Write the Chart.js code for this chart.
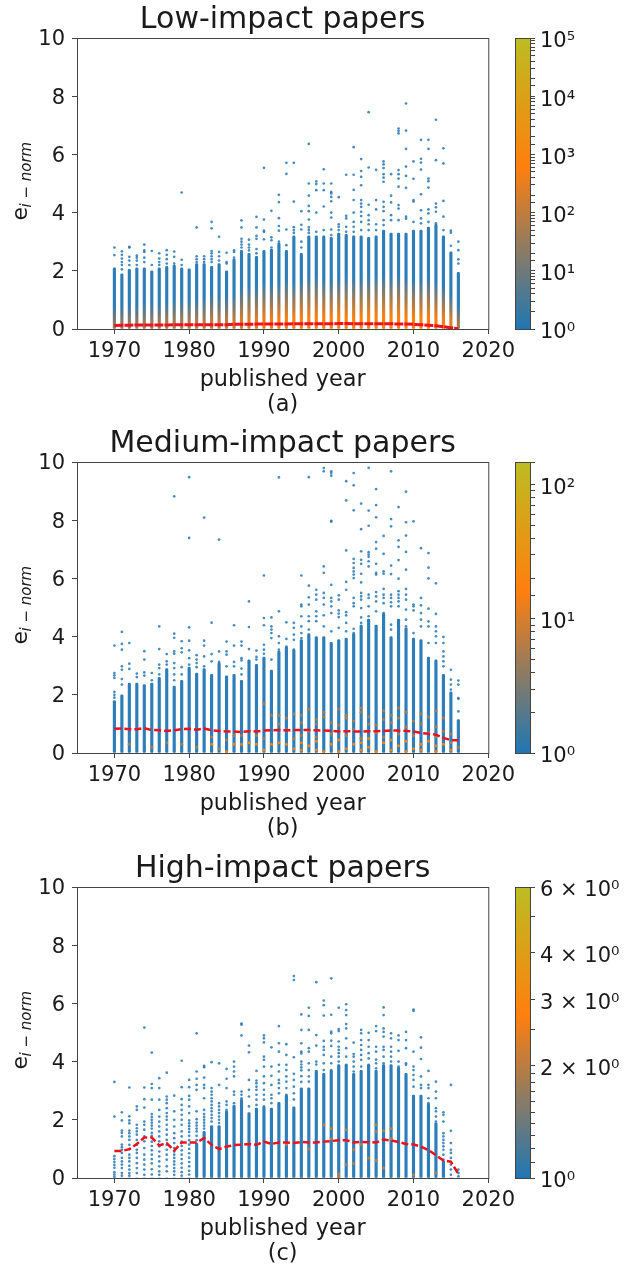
<!DOCTYPE html>
<html>
<head>
<meta charset="utf-8">
<title>Normalized e by published year</title>
<script src="https://cdn.jsdelivr.net/npm/chart.js@4"></script>
<style>
    html, body { margin: 0; padding: 0; background: #fff; }
    body { position: relative; width: 624px; height: 1265px; overflow: hidden; }
    canvas { position: absolute; }
</style>
</head>
<body>
<canvas id="panelA" width="520" height="419" style="left:0;top:0"></canvas>
<canvas id="barA" width="109" height="416" style="left:515px;top:0"></canvas>
<canvas id="panelB" width="520" height="419" style="left:0;top:424px"></canvas>
<canvas id="barB" width="109" height="416" style="left:515px;top:424px"></canvas>
<canvas id="panelC" width="520" height="419" style="left:0;top:849px"></canvas>
<canvas id="barC" width="109" height="416" style="left:515px;top:849px"></canvas>
<script>
const years = [1970,1971,1972,1973,1974,1975,1976,1977,1978,1979,
    1980,1981,1982,1983,1984,1985,1986,1987,1988,1989,
    1990,1991,1992,1993,1994,1995,1996,1997,1998,1999,
    2000,2001,2002,2003,2004,2005,2006,2007,2008,2009,
    2010,2011,2012,2013,2014,2015,2016]
const xTicks = [1970,1980,1990,2000,2010,2020]
const yTicks = [0,2,4,6,8,10]

// top of the solid part of every column
const solidA = [2.1,1.9,2.05,2.1,2.1,2.0,2.1,2.15,2.2,2.1,
    2.07,2.25,2.25,2.15,2.25,2.0,2.4,2.7,2.6,2.5,
    2.7,2.75,2.95,2.7,3.2,2.6,3.2,3.2,3.2,3.15,
    3.3,3.25,3.2,3.2,3.15,3.2,3.4,3.3,3.3,3.3,
    3.4,3.4,3.5,3.6,3.2,2.65,1.95]
const solidB = [1.8,2.0,2.4,2.4,2.35,2.4,2.6,2.9,2.3,2.5,
    2.95,2.75,2.9,2.7,3.1,2.65,2.7,2.5,3.2,3.05,
    3.3,2.85,3.5,3.65,3.55,3.9,4.1,4.0,4.0,3.8,
    3.9,3.95,4.1,4.4,4.6,4.4,4.8,4.0,4.6,4.3,
    3.95,3.9,3.3,3.2,2.7,2.1,1.15]
const solidC = [0,0,0,0,0,0,0,0,0,0,
    0,1.2,1.6,1.8,1.8,2.3,2.5,2.7,2.25,2.4,
    2.45,2.4,2.6,2.85,2.45,3.1,3.1,3.7,3.6,3.7,
    3.9,3.9,3.6,3.7,3.9,3.7,3.9,3.9,3.8,3.6,
    2.85,2.85,2.55,1.9,0.6,0,0]

// mean line
const meanA = [0.12,0.13,0.13,0.14,0.14,0.14,0.14,0.14,0.15,0.15,
    0.15,0.15,0.15,0.15,0.15,0.15,0.16,0.16,0.16,0.17,
    0.17,0.17,0.17,0.17,0.18,0.18,0.18,0.18,0.18,0.18,
    0.19,0.19,0.18,0.18,0.18,0.18,0.18,0.18,0.17,0.17,
    0.16,0.15,0.13,0.11,0.08,0.04,0.01]
const meanB = [0.83,0.84,0.82,0.82,0.85,0.79,0.78,0.76,0.78,0.82,
    0.83,0.80,0.84,0.78,0.76,0.74,0.74,0.72,0.75,0.74,
    0.77,0.78,0.79,0.78,0.79,0.79,0.79,0.78,0.77,0.76,
    0.74,0.75,0.74,0.74,0.75,0.75,0.76,0.77,0.77,0.76,
    0.74,0.69,0.66,0.63,0.52,0.44,0.44]
const meanC = [0.93,0.93,0.99,1.17,1.39,1.39,1.12,1.20,0.94,1.22,
    1.22,1.22,1.37,1.14,0.99,1.08,1.13,1.14,1.17,1.14,
    1.25,1.17,1.22,1.22,1.20,1.24,1.22,1.22,1.25,1.27,
    1.30,1.30,1.22,1.24,1.23,1.22,1.32,1.29,1.24,1.17,
    1.15,1.08,0.96,0.78,0.60,0.56,0.14]

// separate dots above or between the columns, year by year
const dotsA = [
    [2.8,2.54],[2.67,2.55,2.42,2.3,2.2,2.05],[2.82,2.8,2.48,2.35,2.2],[2.52,2.45,2.35,2.2],[2.9,2.7,2.65,2.45,2.3],
    [2.68,2.2],[2.6,2.42,2.3,2.2],[2.71,2.55,2.4,2.25],[2.66,2.48,2.25],[4.69,2.38,2.2],
    [],[3.49,2.5,2.4,2.3],[2.5,2.4,2.3],[3.68,3.46,2.68,2.6,2.5,2.4,2.3],[3.17,2.65,2.5,2.35],
    [2.62,2.3,2.25],[2.7,2.65,2.45],[3.73,3.49,3.1,3.0,2.9,2.8],[3.07,2.9,2.8,2.7],[3.85,3.49,3.2,3.1,2.75,2.6],
    [5.54,3.76,3.38,3.34,3.08],[4.06,3.15,3.05,2.8],[4.61,4.36,3.81,3.54,3.38,3.0],[5.71,5.33,3.42,2.88],[5.71,4.38,3.5,3.4,3.3],
    [4.05,3.58,3.42,3.0,2.8],[6.36,5.0,4.58,4.23,4.05,3.76,3.49,3.4,3.3],[5.07,4.98,4.77,4.0,3.34],[5.49,5.0,4.77,4.21,3.4],[5.0,4.71,4.66,4.54,4.39,4.0,3.83,3.42,3.23],
    [4.53,3.6,3.51,3.4],[5.3,3.89,3.8,3.51,3.34],[6.25,5.3,4.78,4.43,4.0,3.68,3.51,3.34],[5.84,5.43,5.23,4.94,4.43,4.31,4.2,4.03,3.88,3.68,3.4],[7.45,5.55,4.27,3.91,3.74,3.6,3.4],
    [5.47,4.43,4.11,3.6,3.4],[5.76,5.66,5.53,5.32,5.2,5.06,4.37,4.2,4.05,3.74,3.57],[5.32,4.58,4.35,3.91,3.74],[6.89,6.81,6.72,5.46,5.32,5.17,4.89,4.26,4.14,3.74],[7.75,6.82,6.19,5.58,5.26,4.85,3.86,3.79],
    [5.76,5.16,4.43,4.38,3.68],[6.5,5.85,5.72,5.48,4.63,4.08,3.8,3.63],[6.5,6.19,5.17,5.08,4.86,4.11,3.97,3.68],[7.19,5.8,4.31,4.18,4.03,3.63],[6.21,5.69,4.4,3.86,3.4],
    [3.38,3.31,2.86],[3.0,2.71,2.39,2.25]
]
const dotsB = [
    [3.69,2.75,2.67,2.58,2.1,2.0,1.9],[4.16,3.75,3.55,2.98,2.86,2.54,2.35],[3.78,3.07,2.89],[2.73,2.61],[3.5,3.21,2.77,2.66],
    [2.75,2.5],[4.35,3.57,3.04,2.92,2.7],[3.4,3.15,3.04],[8.82,4.1,3.96,3.49,3.41,3.09,2.92,2.7,2.5],[3.84,3.6,3.46,2.95,2.7],
    [9.48,7.39,4.32,3.86,3.53,3.26,3.04],[3.36,3.21,3.09,2.95],[8.09,3.86,3.69,3.32,2.98],[4.48,3.4,3.15],[7.33,3.49,3.13],
    [3.83,3.49,3.38,2.98],[4.39,3.69,3.13,2.98],[3.83,3.69,3.26,3.18,2.9,2.7],[5.21,4.33,3.57],[3.52,3.3,3.21],
    [6.1,4.64,4.39,3.72,3.55,3.41],[4.66,4.35,4.24,4.12,3.95,3.21],[9.47,4.87,4.01,3.78,3.55],[4.49,3.92,3.66],[4.47,4.3,4.07,3.89,3.55],
    [6.1,5.1,5.04,4.7,4.35,4.12,3.95],[9.48,5.75,5.35,5.1,4.7,4.53,4.24],[5.61,5.44,5.27,4.87,4.7,4.53],[9.79,9.68,6.41,6.19,5.5,5.33,5.1,4.73,4.35],[9.68,9.62,9.53,7.98,7.95,5.78,5.33,5.21,5.04,4.81,4.18],
    [5.42,5.27,4.9,4.79,4.67,4.3],[9.34,8.68,6.96,5.88,5.61,4.84,4.73,4.47,4.18],[9.62,9.2,8.34,6.67,6.53,6.36,6.24,6.13,6.01,5.33,5.15,5.04,4.27,4.12],[8.57,7.69,6.93,6.64,6.5,6.16,5.86,5.5,5.38,5.27,4.98,4.66,4.47],[9.8,8.33,7.81,6.9,6.82,6.74,6.59,6.41,5.44,5.33,5.04,4.7],
    [9.07,8.52,8.1,7.25,7.02,6.5,6.19,6.13,5.53,5.38,5.21,4.87],[7.46,6.84,6.24,6.16,5.64,5.44,5.33,5.15,4.81],[9.68,8.04,7.79,6.44,6.15,5.44,5.33,5.18,5.04,4.41,4.24],[8.45,7.31,7.08,6.63,5.99,5.56,5.44,5.33,5.21,5.04],[8.98,7.93,7.47,6.91,6.3,5.64,5.44,5.27,4.93,4.58,4.35],
    [7.96,5.1,5.04,4.9,4.12],[7.04,5.33,5.07,4.81,4.58,4.35],[6.87,6.37,6.0,4.96,4.52,4.35,3.78],[5.83,4.78,4.35,4.18,4.01,3.78],[3.99,3.78,3.49,3.32,3.15,2.98],
    [2.86,2.52,2.35,2.18],[2.49,2.35,1.89,1.86,1.43]
]
const dotsC = [
    [3.3,2.11,0.75,0.65,0.55,0.45,0.35,0.2,0.12,0.05],
    [2.26,1.98,1.63,1.55,1.43,1.15,1.06,0.97,0.86,0.69,0.57,0.46,0.34,0.17,0.08],
    [3.11,2.12,1.98,1.88,1.63,1.54,1.43,1.31,1.14,0.99,0.8,0.69,0.57,0.42,0.29,0.17,0.08],
    [2.46,2.34,1.83,1.71,1.6,1.49,1.31,1.14,0.97,0.86,0.69,0.51,0.34,0.17],
    [5.17,3.11,2.71,2.42,1.94,1.83,1.66,1.43,1.26,1.03,0.8,0.63,0.46,0.29,0.11],
    [4.31,3.23,3.09,2.69,2.2,2.1,2.0,1.9,1.8,1.7,1.55,1.45,1.25,1.1,0.95,0.8,0.65,0.5,0.3,0.12],
    [3.43,3.09,2.69,2.34,2.11,1.94,1.77,1.6,1.43,1.26,1.09,0.91,0.74,0.57,0.4,0.23,0.11],
    [3.62,2.8,2.69,2.57,2.4,2.23,2.11,2.0,1.83,1.66,1.49,1.31,1.14,0.97,0.8,0.63,0.4,0.23],
    [2.83,2.29,2.0,1.77,1.54,1.37,1.2,1.03,0.91,0.8,0.69,0.57,0.46,0.34,0.23,0.11],
    [4.03,3.12,2.71,2.51,2.34,2.17,2.0,1.83,1.6,1.43,1.25,1.1,0.95,0.8,0.65,0.5,0.35,0.2,0.08],
    [3.37,3.12,2.82,2.69,2.46,2.23,1.98,1.88,1.78,1.68,1.58,1.45,1.3,1.15,1.0,0.85,0.7,0.55,0.4,0.25,0.12],
    [4.97,3.66,3.41,3.2,3.03,2.29,2.02,1.9,1.8,1.7,1.6,1.45,1.3],
    [3.85,3.81,3.45,3.2,3.09,2.74,2.34,2.2,2.1,2.0,1.9,1.8,1.7],
    [3.98,3.09,2.97,2.86,2.74,2.63,2.51,2.4,2.29,2.17,2.06,1.94],
    [3.94,3.2,2.57,2.46,2.34,2.23,2.11,2.0,1.89],
    [3.75,3.41,3.09,2.63,2.51,2.34],[4.0,3.83,3.66,3.49,2.97,2.86,2.57],[5.31,5.27,4.9,2.97,2.86,2.74],[4.55,4.32,3.37,3.03,2.8,2.46],[3.68,3.35,3.26,3.14,3.03,2.86,2.69,2.51],
    [4.9,4.8,4.66,4.17,4.06,3.83,3.49,3.26,3.03,2.86,2.69,2.46],[4.49,3.83,3.51,3.2,2.86,2.74,2.57],[5.22,4.63,4.34,3.89,3.66,3.37,3.26,3.09,2.91],[4.6,4.23,3.89,3.71,3.49,3.31,3.09,2.86],[6.94,6.8,4.15,3.58,3.37,3.14,2.91,2.7],
    [5.62,5.09,4.63,4.34,4.28,4.0,3.9,3.8,3.7,3.5,3.3],[5.85,5.57,5.09,4.46,4.34,3.94,3.71,3.49,3.31],[6.73,4.91,4.55,4.0,3.9],[6.1,5.94,5.58,4.71,4.51,4.4,4.23,3.94,3.71],[6.86,5.61,5.03,4.97,4.72,4.54,4.17,3.94,3.71],
    [5.85,5.12,5.05,4.69,4.51,4.4,4.29,4.17,4.0],[5.97,5.77,5.6,5.29,5.14,4.8,4.46,4.17,3.89],[4.65,4.26,4.17,4.0,3.83,3.66],[5.09,4.97,4.74,4.57,4.4,4.23,4.06,3.83],[4.99,4.74,4.51,4.29,4.11,3.89],
    [5.22,5.05,4.51,4.34,4.07,3.94,3.77],[5.86,5.6,5.14,5.02,4.86,4.51,4.4,4.17,3.94],[4.97,4.8,4.51,4.34,4.17,4.0],[4.9,4.74,4.37,4.0,3.83],[5.02,4.74,4.46,3.94,3.89],
    [5.79,5.74,4.34,3.83,3.71,3.54,3.37,3.14],[4.83,4.48,4.09,3.49,3.2,3.09],[3.68,3.2,3.09,2.74,2.57],[3.31,2.97,2.74,2.4,2.29,2.11,1.94],[2.26,2.17,1.94,1.54,1.43,1.31,1.2,1.09,0.97,0.8,0.63],
    [3.2,1.62,1.2,0.97,0.86,0.69,0.46,0.29,0.11],[0.29,0.17,0.06]
]

// panel (a): how far up the warm colours reach in a column and the count at its foot
const warmTopA = [0.8,0.8,0.85,0.85,0.9,0.9,0.9,0.95,1.0,1.0,
    1.0,1.05,1.1,1.2,1.1,1.15,1.2,1.45,1.5,1.45,
    1.6,1.55,1.6,1.7,1.6,1.7,1.8,1.8,1.7,1.7,
    1.75,1.8,1.75,1.75,1.8,1.85,1.85,1.8,1.85,1.75,
    1.7,1.7,1.75,1.6,1.5,1.2,0.8]
const footCountA = [25,30,30,35,40,40,45,50,55,60,
    70,75,80,110,100,110,130,190,230,260,
    380,400,420,460,500,520,560,600,620,640,
    680,700,700,720,740,760,780,780,760,740,
    700,660,620,560,460,260,50]

// panels (b) and (c): the few warm cells that show inside the columns
const warmLowB = [
    [],[],[0.3],[],[],[0.2],[],[0.35],[],[0.3],
    [],[0.2],[],[0.55],[0.15],[0.45],[0.6],[0.6],[],[0.6],
    [0.5,1.7],[1.3],[1.0,1.3],[0.8,1.2],[0.5,1.35],[0.6,1.05,1.3],[0.75,1.5],[0.55,1.0,1.15],[1.25,1.4],[0.65,1.05],
    [0.95,1.5],[0.6,1.2,1.3],[0.8,1.1],[0.5,1.4,1.55],[1.0,1.25],[0.7,0.95],[0.55,1.15,1.45],[1.05,1.3],[0.65,1.2,1.55],[0.9,1.4],
    [0.6,1.1],[1.0,1.35],[0.7,1.25],[0.55,0.9,1.45],[0.75,1.2],[0.35,0.65],[0.2]
]
const warmHighB = [
    [],[],[],[],[],[],[],[],[],[],
    [],[],[],[0.3],[],[0.05],[0.3],[0.3],[0.35],[0.3],
    [0.1],[0.3],[0.35],[0.3],[0.15],[0.1,0.35],[0.25],[0.1,0.4],[0.05],[0.3],
    [0.05,0.45],[0.15],[0.3],[0.1,0.35],[0.2,0.5],[0.05],[0.35],[0.1,0.45],[0.25],[0.05,0.4],
    [0.15],[0.1,0.3],[0.4],[0.05,0.25],[0.3],[0.1],[]
]
const warmLowC = [
    [],[],[],[],[],[],[],[],[],[],
    [],[],[],[],[],[],[],[],[],[],
    [],[],[],[1.15],[],[],[1.0],[],[1.83],[1.7,1.34],
    [0.15,0.05],[1.66,0.46],[0.97,0.5],[1.15],[0.69],[1.83,1.6,0.6],[1.62,0.34],[1.7,1.35],[],[],
    [0.11],[],[],[0.17],[],[],[]
]

const xTitles = [['published year', '(a)'], ['published year', '(b)'], ['published year', '(c)']]
const titles = ['Low-impact papers', 'Medium-impact papers', 'High-impact papers']
const barMaxes = [100000, 148, 6]
const barLabelsA = {1: '10⁰', 10: '10¹', 100: '10²', 1000: '10³', 10000: '10⁴', 100000: '10⁵'}
const barLabelsB = {1: '10⁰', 10: '10¹', 100: '10²'}
const barLabelsC = {1: '10⁰', 2: '2 × 10⁰', 3: '3 × 10⁰', 4: '4 × 10⁰', 6: '6 × 10⁰'}

const font = 'DejaVu Sans'
const ink = '#1a1a1a'
const frameColor = '#444'
const blue = [31, 119, 180]
const orange = [255, 127, 14]
const olive = [188, 189, 34]
const orangeAt = 0.56
const columnBlue = 'rgb(45,125,184)'

const mix = (a, b, t) => 'rgb(' + a.map((c, i) => Math.round(c + (b[i] - c) * t)).join(',') + ')'
const cmap = (f) => f < orangeAt ? mix(blue, orange, f / orangeAt) : mix(orange, olive, (f - orangeAt) / (1 - orangeAt))
const countColor = (n, max) => cmap(Math.log(n) / Math.log(max))
const toPoints = (lists) => lists.flatMap((vals, i) => vals.map((v) => ({x: years[i], y: v})))

const framePlugin = {
    id: 'frame',
    afterDraw(chart) {
        const {ctx, chartArea: a} = chart
        ctx.save()
        ctx.strokeStyle = frameColor
        ctx.lineWidth = 1
        ctx.strokeRect(a.left + 0.5, a.top + 0.5, a.right - a.left, a.bottom - a.top)
        ctx.restore()
    }
}

// rotated y label with its subscript
const yLabelPlugin = {
    id: 'yLabel',
    afterDraw(chart) {
        const {ctx, chartArea: a} = chart
        ctx.save()
        ctx.translate(27, (a.top + a.bottom) / 2)
        ctx.rotate(-Math.PI / 2)
        ctx.fillStyle = ink
        ctx.textAlign = 'left'
        ctx.font = '22px "DejaVu Sans"'
        ctx.fillText('e', -37, 0)
        ctx.font = 'italic 15px "DejaVu Sans"'
        ctx.fillText('i − norm', -24, 4)
        ctx.restore()
    }
}

function makePanel(id, p) {
    const datasets = [
        {type: 'bar', data: years.map((y, i) => ({x: y, y: [0, p.solid[i]]})), backgroundColor: p.barColor || columnBlue, barThickness: 2.5, borderRadius: 1.2, borderSkipped: false, order: 5},
        {type: 'scatter', data: toPoints(p.dots), backgroundColor: 'rgba(40,120,180,0.85)', pointRadius: 1.35, borderWidth: 0, order: 4}
    ]
    ;(p.warm || []).forEach((w) => {
        datasets.push({type: 'scatter', data: toPoints(w.lists), backgroundColor: w.color, pointRadius: 1.5, borderWidth: 0, order: 3})
    })
    datasets.push({type: 'line', data: years.map((y, i) => ({x: y, y: p.mean[i]})), borderColor: '#f0101c', borderWidth: p.lineWidth, borderDash: p.dash, pointRadius: 0, tension: 0, fill: false, order: 1})

    return new Chart(document.getElementById(id), {
        type: 'bar',
        data: {datasets},
        plugins: [framePlugin, yLabelPlugin],
        options: {
            responsive: false,
            animation: false,
            layout: {padding: {top: 0, right: 31, bottom: 0, left: 0}},
            plugins: {
                legend: {display: false},
                tooltip: {enabled: false},
                title: {display: true, fullSize: false, text: p.title, color: ink, font: {family: font, size: 30, weight: 'normal', lineHeight: 1.2}, padding: {top: 2, bottom: 0}}
            },
            scales: {
                x: {
                    type: 'linear', min: 1965, max: 2020, offset: false,
                    afterBuildTicks: (s) => { s.ticks = xTicks.map((v) => ({value: v})) },
                    afterFit: (s) => { s.height = 90 },
                    grid: {drawOnChartArea: false, tickLength: 5, tickColor: frameColor, offset: false},
                    border: {display: false},
                    ticks: {color: ink, font: {family: font, size: 21}, padding: 5, maxRotation: 0, autoSkip: false, callback: (v) => String(v)},
                    title: {display: true, text: p.xTitle, color: ink, font: {family: font, size: 22.4, lineHeight: 1.12}, padding: {top: 0, bottom: 1}}
                },
                y: {
                    min: 0, max: 10,
                    afterBuildTicks: (s) => { s.ticks = yTicks.map((v) => ({value: v})) },
                    afterFit: (s) => { s.width = 77 },
                    grid: {drawOnChartArea: false, tickLength: 5, tickColor: frameColor},
                    border: {display: false},
                    ticks: {color: ink, font: {family: font, size: 21}, padding: 7, labelOffset: 2}
                }
            }
        }
    })
}

function makeBar(id, max, labels) {
    return new Chart(document.getElementById(id), {
        type: 'bar',
        data: {labels: [''], datasets: [{
            data: [[1, max]],
            barPercentage: 1,
            categoryPercentage: 1,
            backgroundColor(c) {
                const a = c.chart.chartArea
                if (!a) return 'rgb(31,119,180)'
                const g = c.chart.ctx.createLinearGradient(0, a.bottom, 0, a.top)
                g.addColorStop(0, cmap(0))
                g.addColorStop(orangeAt, cmap(orangeAt))
                g.addColorStop(1, cmap(1))
                return g
            }
        }]},
        plugins: [framePlugin],
        options: {
            responsive: false,
            animation: false,
            layout: {padding: {top: 38, right: 0, bottom: 87, left: 0}},
            plugins: {legend: {display: false}, tooltip: {enabled: false}},
            scales: {
                x: {display: false},
                y: {
                    type: 'logarithmic', position: 'right', min: 1, max: max,
                    afterFit: (s) => { s.width = 94 },
                    grid: {drawOnChartArea: false, tickLength: 5, tickColor: frameColor},
                    border: {display: false},
                    ticks: {color: ink, font: {family: font, size: 21}, padding: 5, labelOffset: 4, autoSkip: false, callback: (v) => labels[v] || ''}
                }
            }
        }
    })
}

// colour of a column in panel (a): warm at the foot, fading to blue
function columnColor(c) {
    const chart = c.chart
    if (!chart.chartArea || c.dataIndex === undefined) return columnBlue
    const y = chart.scales.y
    const g = chart.ctx.createLinearGradient(0, y.getPixelForValue(0), 0, y.getPixelForValue(warmTopA[c.dataIndex]))
    const f = Math.log(footCountA[c.dataIndex]) / Math.log(barMaxes[0])
    g.addColorStop(0, cmap(f))
    g.addColorStop(0.22, cmap(f))
    g.addColorStop(0.6, cmap(f * 0.55))
    g.addColorStop(1, columnBlue)
    return g
}

makePanel('panelA', {title: titles[0], xTitle: xTitles[0], solid: solidA, dots: dotsA, mean: meanA, dash: [9, 1], lineWidth: 3, barColor: columnColor})
makePanel('panelB', {title: titles[1], xTitle: xTitles[1], solid: solidB, dots: dotsB, mean: meanB, dash: [7, 3], lineWidth: 2.5,
    warm: [{lists: warmLowB, color: countColor(6, barMaxes[1])}, {lists: warmHighB, color: countColor(18, barMaxes[1])}]})
makePanel('panelC', {title: titles[2], xTitle: xTitles[2], solid: solidC, dots: dotsC, mean: meanC, dash: [7, 3], lineWidth: 2.5,
    warm: [{lists: warmLowC, color: countColor(2, barMaxes[2])}]})
makeBar('barA', barMaxes[0], barLabelsA)
makeBar('barB', barMaxes[1], barLabelsB)
makeBar('barC', barMaxes[2], barLabelsC)
</script>
</body>
</html>
